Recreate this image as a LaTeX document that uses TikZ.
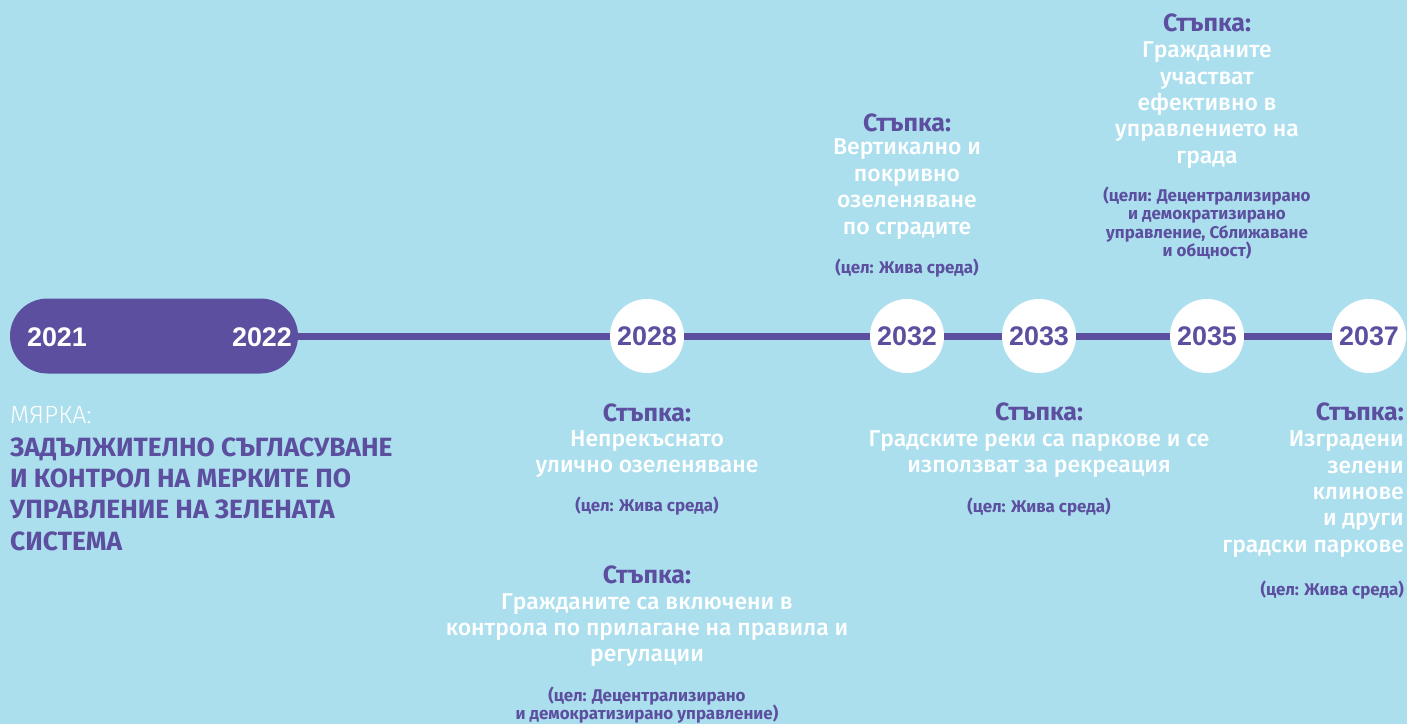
\documentclass[tikz,border=0pt]{standalone}
\usepackage{fontspec}
\setmainfont{Fira Sans}
\newfontfamily\medfont{Fira Sans Medium}
\newfontfamily\lightfont{Fira Sans Light}
\newfontfamily\yearfont{Liberation Sans}
\definecolor{skyblue}{HTML}{ACDFEE}
\definecolor{tlpurple}{HTML}{5C4F9F}

\tikzset{
  year/.style={circle, fill=white, minimum size=74bp, inner sep=0pt, text=tlpurple,
    font=\yearfont\bfseries\fontsize{27}{27}\selectfont},
  yeartext/.style={text=white, inner sep=0pt, font=\yearfont\bfseries\fontsize{27}{27}\selectfont},
  steptitle/.style={text=tlpurple, inner sep=0pt, font=\bfseries\fontsize{25}{26}\selectfont},
  stepbody/.style={text=white, inner sep=0pt, align=center, font=\medfont\fontsize{23}{26.5}\selectfont},
  goal/.style={text=tlpurple, inner sep=0pt, align=center, font=\bfseries\fontsize{17}{18.5}\selectfont},
  timeline/.style={draw=tlpurple, line width=7bp},
}

\begin{document}
\begin{tikzpicture}[x=1bp, y=-1bp]
                    \fill[skyblue] (0,0) rectangle (1407,724);
                    \useasboundingbox (0,0) rectangle (1407,724);
                    % Nodes
                    \node[fill=tlpurple, rounded corners=37.5bp, minimum width=288bp, minimum height=75bp] (pill) at (154,336) {};
                    \node[yeartext] (y2021) at (57,337) {2021};
                    \node[yeartext] (y2022) at (262,337) {2022};
                    \node[year] (c2028) at (647,336) {2028};
                    \node[year] (c2032) at (907,336) {2032};
                    \node[year] (c2033) at (1039,336) {2033};
                    \node[year] (c2035) at (1207,336) {2035};
                    \node[year] (c2037) at (1369,336) {2037};
                    % Edges
                    \draw[timeline] (pill) -- (c2028);
                    \draw[timeline] (c2028) -- (c2032);
                    \draw[timeline] (c2032) -- (c2033);
                    \draw[timeline] (c2033) -- (c2035);
                    \draw[timeline] (c2035) -- (c2037);
                    % Measure
                    \node[anchor=west, text=white, inner sep=0pt, font=\lightfont\fontsize{25}{32}\selectfont] (measure) at (10,415) {МЯРКА:};
                    \node[anchor=west, text=tlpurple, inner sep=0pt, align=left, font=\bfseries\fontsize{26.5}{31.5}\selectfont] (measurebody) at (10,494) {ЗАДЪЛЖИТЕЛНО СЪГЛАСУВАНЕ\\И КОНТРОЛ НА МЕРКИТЕ ПО\\УПРАВЛЕНИЕ НА ЗЕЛЕНАТА\\СИСТЕМА};
                    % Steps above
                    \node[steptitle] (t2032) at (907,123) {Стъпка:};
                    \node[stepbody] (b2032) at (907,189) {Вертикално и\\покривно\\озеленяване\\по сградите};
                    \node[goal] (g2032) at (907,268) {(цел: Жива среда)};
                    \node[steptitle] (t2035) at (1207,23) {Стъпка:};
                    \node[stepbody] (b2035) at (1207,105) {Гражданите\\участват\\ефективно в\\управлението на\\града};
                    \node[goal] (g2035) at (1207,223) {(цели: Децентрализирано\\и демократизирано\\управление, Сближаване\\и общност)};
                    % Steps below
                    \node[steptitle] (t2028) at (647,413) {Стъпка:};
                    \node[stepbody] (b2028) at (647,454) {Непрекъснато\\улично озеленяване};
                    \node[goal] (g2028) at (647,506) {(цел: Жива среда)};
                    \node[steptitle] (t2028b) at (647,575) {Стъпка:};
                    \node[stepbody] (b2028b) at (647,630) {Гражданите са включени в\\контрола по прилагане на правила и\\регулации};
                    \node[goal] (g2028b) at (647,705) {(цел: Децентрализирано\\и демократизирано управление)};
                    \node[steptitle] (t2033) at (1039,412) {Стъпка:};
                    \node[stepbody] (b2033) at (1039,454) {Градските реки са паркове и се\\използват за рекреация};
                    \node[goal] (g2033) at (1039,507) {(цел: Жива среда)};
                    \node[steptitle, anchor=east] (t2037) at (1404,412) {Стъпка:};
                    \node[stepbody, anchor=east, align=right] (b2037) at (1404,494) {Изградени\\зелени\\клинове\\и други\\градски паркове};
                    \node[goal, anchor=east] (g2037) at (1404,590) {(цел: Жива среда)};
                \end{tikzpicture}
\end{document}
